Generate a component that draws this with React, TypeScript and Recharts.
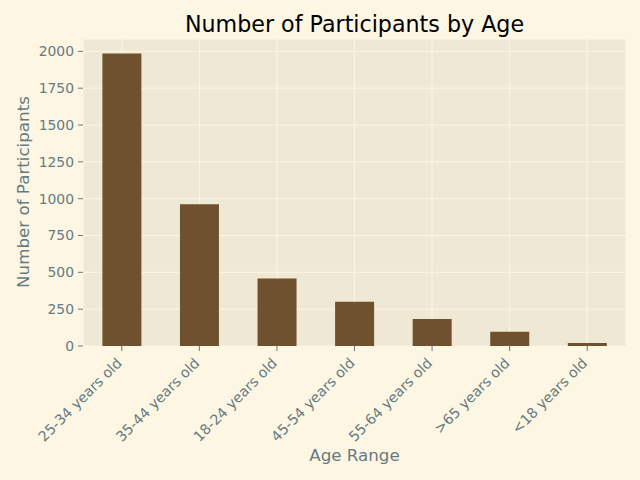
import React from "react";
import { BarChart, Bar, XAxis, YAxis, CartesianGrid, Customized } from "recharts";

const ageRanges = [
  "25-34 years old",
  "35-44 years old",
  "18-24 years old",
  "45-54 years old",
  "55-64 years old",
  ">65 years old",
  "<18 years old",
];
const participants = [1985, 962, 458, 300, 184, 96, 20];
const yTicks = [0, 250, 500, 750, 1000, 1250, 1500, 1750, 2000];

const data = ageRanges.map((age, i) => ({ age, count: participants[i] }));

const FONT = "DejaVu Sans, sans-serif";
const TEXT = "#657b83";

const XTick = (props: any) => {
  const { x, y, payload } = props;
  const tx = x + 1;
  const ty = y + 11;
  return (
    <text
      x={tx}
      y={ty}
      transform={`rotate(-45, ${tx}, ${ty})`}
      textAnchor="end"
      fill={TEXT}
      fontSize={14.2}
      fontFamily={FONT}
    >
      {payload.value}
    </text>
  );
};

const Titles = () => (
  <g fontFamily={FONT}>
    <text x={354.5} y={31.5} textAnchor="middle" fontSize={22.2} fill="#000">
      Number of Participants by Age
    </text>
    <text x={354.5} y={461} textAnchor="middle" fontSize={16.7} fill={TEXT}>
      Age Range
    </text>
    <text
      x={29}
      y={192}
      textAnchor="middle"
      fontSize={16.7}
      fill={TEXT}
      transform="rotate(-90, 29, 192)"
    >
      Number of Participants
    </text>
  </g>
);

export default function App() {
  return (
    <div style={{ position: "absolute", left: 0, top: 0, width: 640, height: 480, background: "#fdf6e3" }}>
      <BarChart
        width={640}
        height={480}
        data={data}
        margin={{ top: 39, right: 14, bottom: 0, left: 0 }}
        barCategoryGap="25%"
      >
        <CartesianGrid fill="#eee8d5" stroke="#fdf6e3" strokeWidth={1} fillOpacity={1} />
        <XAxis
          dataKey="age"
          height={134}
          axisLine={false}
          tickSize={5}
          tickLine={{ stroke: TEXT }}
          interval={0}
          tick={<XTick />}
        />
        <YAxis
          width={83}
          domain={[0, 2084]}
          ticks={yTicks}
          axisLine={false}
          tickSize={5}
          tickMargin={4}
          tickLine={{ stroke: TEXT }}
          tick={{ fill: TEXT, fontSize: 13.9, fontFamily: FONT }}
        />
        <Bar dataKey="count" fill="#70512d" isAnimationActive={false} />
        <Customized component={Titles} />
      </BarChart>
    </div>
  );
}
